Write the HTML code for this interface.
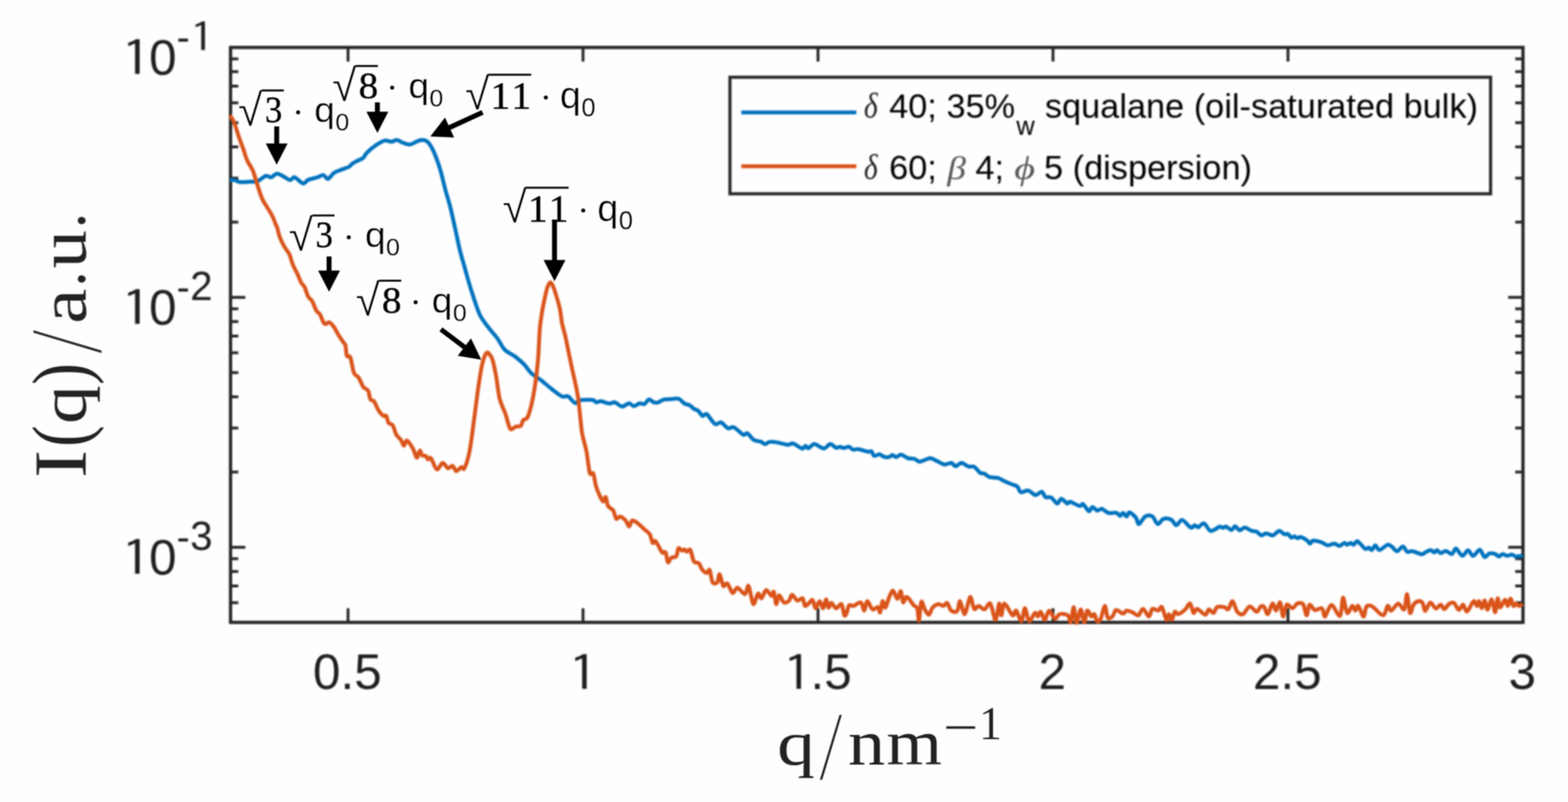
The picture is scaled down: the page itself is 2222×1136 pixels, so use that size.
<!DOCTYPE html>
<html lang="en"><head><meta charset="utf-8"><title>SAXS I(q) curves</title>
<style>
html,body{margin:0;padding:0;background:#fff;}
body{width:2222px;height:1136px;overflow:hidden;}
svg{display:block;}
.tick{font-family:"Liberation Sans",Arial,sans-serif;fill:#1e1e1e;}
.leg{font-family:"Liberation Sans",Arial,sans-serif;fill:#000;}
.cm{fill:#222;}
.gr{font-family:"Liberation Serif","Times New Roman",serif;font-style:italic;}
.ann{fill:#000;}
</style></head><body>
<svg width="2222" height="1136" viewBox="0 0 2222 1136" role="img" aria-label="SAXS intensity I(q) versus q for two samples">
<defs><filter id="soft1" x="0" y="0" width="2222" height="1136" filterUnits="userSpaceOnUse" color-interpolation-filters="sRGB"><feGaussianBlur stdDeviation="1.3"/></filter><filter id="soft2" x="0" y="0" width="2222" height="1136" filterUnits="userSpaceOnUse" color-interpolation-filters="sRGB"><feConvolveMatrix order="3" kernelMatrix="0.0625 0.1250 0.0625 0.1250 0.2500 0.1250 0.0625 0.1250 0.0625" divisor="1" edgeMode="duplicate" preserveAlpha="false"/></filter></defs>
<rect width="2222" height="1136" fill="#fefefe"/>
<g id="plot" filter="url(#soft1)">
<g id="axes" stroke="#262626" fill="none">
<rect x="326.7" y="67.2" width="1831.5" height="814.4" stroke-width="4.6"/>
<line x1="493.2" y1="881.6" x2="493.2" y2="861.6" stroke-width="4"/>
<line x1="493.2" y1="67.2" x2="493.2" y2="87.2" stroke-width="4"/>
<line x1="826.2" y1="881.6" x2="826.2" y2="861.6" stroke-width="4"/>
<line x1="826.2" y1="67.2" x2="826.2" y2="87.2" stroke-width="4"/>
<line x1="1159.2" y1="881.6" x2="1159.2" y2="861.6" stroke-width="4"/>
<line x1="1159.2" y1="67.2" x2="1159.2" y2="87.2" stroke-width="4"/>
<line x1="1492.2" y1="881.6" x2="1492.2" y2="861.6" stroke-width="4"/>
<line x1="1492.2" y1="67.2" x2="1492.2" y2="87.2" stroke-width="4"/>
<line x1="1825.2" y1="881.6" x2="1825.2" y2="861.6" stroke-width="4"/>
<line x1="1825.2" y1="67.2" x2="1825.2" y2="87.2" stroke-width="4"/>
<line x1="326.7" y1="421.2" x2="347.7" y2="421.2" stroke-width="4"/>
<line x1="2158.2" y1="421.2" x2="2137.2" y2="421.2" stroke-width="4"/>
<line x1="326.7" y1="314.6" x2="337.7" y2="314.6" stroke-width="4"/>
<line x1="2158.2" y1="314.6" x2="2147.2" y2="314.6" stroke-width="4"/>
<line x1="326.7" y1="252.3" x2="337.7" y2="252.3" stroke-width="4"/>
<line x1="2158.2" y1="252.3" x2="2147.2" y2="252.3" stroke-width="4"/>
<line x1="326.7" y1="208.1" x2="337.7" y2="208.1" stroke-width="4"/>
<line x1="2158.2" y1="208.1" x2="2147.2" y2="208.1" stroke-width="4"/>
<line x1="326.7" y1="173.8" x2="337.7" y2="173.8" stroke-width="4"/>
<line x1="2158.2" y1="173.8" x2="2147.2" y2="173.8" stroke-width="4"/>
<line x1="326.7" y1="145.7" x2="337.7" y2="145.7" stroke-width="4"/>
<line x1="2158.2" y1="145.7" x2="2147.2" y2="145.7" stroke-width="4"/>
<line x1="326.7" y1="122.0" x2="337.7" y2="122.0" stroke-width="4"/>
<line x1="2158.2" y1="122.0" x2="2147.2" y2="122.0" stroke-width="4"/>
<line x1="326.7" y1="101.5" x2="337.7" y2="101.5" stroke-width="4"/>
<line x1="2158.2" y1="101.5" x2="2147.2" y2="101.5" stroke-width="4"/>
<line x1="326.7" y1="83.4" x2="337.7" y2="83.4" stroke-width="4"/>
<line x1="2158.2" y1="83.4" x2="2147.2" y2="83.4" stroke-width="4"/>
<line x1="326.7" y1="775.2" x2="347.7" y2="775.2" stroke-width="4"/>
<line x1="2158.2" y1="775.2" x2="2137.2" y2="775.2" stroke-width="4"/>
<line x1="326.7" y1="668.6" x2="337.7" y2="668.6" stroke-width="4"/>
<line x1="2158.2" y1="668.6" x2="2147.2" y2="668.6" stroke-width="4"/>
<line x1="326.7" y1="606.3" x2="337.7" y2="606.3" stroke-width="4"/>
<line x1="2158.2" y1="606.3" x2="2147.2" y2="606.3" stroke-width="4"/>
<line x1="326.7" y1="562.1" x2="337.7" y2="562.1" stroke-width="4"/>
<line x1="2158.2" y1="562.1" x2="2147.2" y2="562.1" stroke-width="4"/>
<line x1="326.7" y1="527.8" x2="337.7" y2="527.8" stroke-width="4"/>
<line x1="2158.2" y1="527.8" x2="2147.2" y2="527.8" stroke-width="4"/>
<line x1="326.7" y1="499.7" x2="337.7" y2="499.7" stroke-width="4"/>
<line x1="2158.2" y1="499.7" x2="2147.2" y2="499.7" stroke-width="4"/>
<line x1="326.7" y1="476.0" x2="337.7" y2="476.0" stroke-width="4"/>
<line x1="2158.2" y1="476.0" x2="2147.2" y2="476.0" stroke-width="4"/>
<line x1="326.7" y1="455.5" x2="337.7" y2="455.5" stroke-width="4"/>
<line x1="2158.2" y1="455.5" x2="2147.2" y2="455.5" stroke-width="4"/>
<line x1="326.7" y1="437.4" x2="337.7" y2="437.4" stroke-width="4"/>
<line x1="2158.2" y1="437.4" x2="2147.2" y2="437.4" stroke-width="4"/>
<line x1="326.7" y1="853.7" x2="337.7" y2="853.7" stroke-width="4"/>
<line x1="2158.2" y1="853.7" x2="2147.2" y2="853.7" stroke-width="4"/>
<line x1="326.7" y1="830.0" x2="337.7" y2="830.0" stroke-width="4"/>
<line x1="2158.2" y1="830.0" x2="2147.2" y2="830.0" stroke-width="4"/>
<line x1="326.7" y1="809.5" x2="337.7" y2="809.5" stroke-width="4"/>
<line x1="2158.2" y1="809.5" x2="2147.2" y2="809.5" stroke-width="4"/>
<line x1="326.7" y1="791.4" x2="337.7" y2="791.4" stroke-width="4"/>
<line x1="2158.2" y1="791.4" x2="2147.2" y2="791.4" stroke-width="4"/>
</g>
<g id="curves">
<path d="M325.8,255.7C326.7,255.6 329.4,254.5 331.7,254.9C334.0,255.3 336.5,257.5 340.0,257.9C343.5,258.3 349.3,257.6 353.3,257.4C357.3,257.2 361.3,257.9 365.0,256.6C368.7,255.3 373.5,250.0 376.6,249.1C379.7,248.2 381.7,251.7 384.1,251.2C386.5,250.7 389.3,246.7 391.6,246.2C393.9,245.7 395.2,246.5 398.3,247.9C401.4,249.3 407.7,254.4 410.8,254.9C413.9,255.4 414.4,250.4 417.4,251.2C420.4,252.0 426.4,259.3 429.5,259.9C432.6,260.5 433.3,256.3 436.6,254.9C439.9,253.5 446.4,252.3 449.9,251.2C453.4,250.1 455.8,247.5 458.2,247.9C460.6,248.3 462.6,253.9 465.0,253.4C467.4,252.9 470.3,246.9 473.2,244.9C476.1,242.9 479.6,242.0 483.0,240.6C486.4,239.2 491.8,237.7 494.3,236.4C496.8,235.1 496.8,233.6 498.8,232.2C500.8,230.8 504.5,228.9 507.0,227.5C509.5,226.1 512.6,225.4 514.6,223.6C516.6,221.8 517.1,219.2 519.8,216.5C522.5,213.8 527.5,209.4 531.5,206.6C535.5,203.8 541.1,200.0 544.8,199.1C548.5,198.2 552.0,200.9 554.8,200.8C557.6,200.7 559.6,198.0 562.3,198.3C565.0,198.6 568.4,201.4 571.5,202.4C574.6,203.4 578.5,204.9 581.4,204.6C584.3,204.3 587.3,201.8 589.8,200.8C592.3,199.8 594.9,198.4 597.3,198.3C599.7,198.2 602.5,198.4 604.8,200.0C607.1,201.6 609.3,204.6 611.4,208.3C613.5,212.0 616.0,217.7 618.1,223.3C620.2,228.9 622.6,235.7 624.7,243.2C626.8,250.7 629.3,261.9 631.4,269.9C633.5,277.9 635.8,284.2 638.1,293.2C640.4,302.2 643.3,316.3 645.5,326.0C647.7,335.7 649.6,345.6 651.6,354.0C653.6,362.4 656.2,370.6 658.3,378.3C660.4,386.0 662.8,394.5 665.0,402.0C667.2,409.5 669.8,417.8 672.3,425.0C674.8,432.2 677.2,440.6 680.5,447.0C683.8,453.4 689.1,459.8 693.0,464.9C696.9,470.0 701.2,474.2 704.7,479.0C708.2,483.8 710.9,490.8 714.9,495.0C718.9,499.2 725.4,501.5 729.9,505.0C734.4,508.5 739.5,512.7 743.2,516.6C746.9,520.5 749.5,525.6 753.2,529.1C756.9,532.6 762.0,534.8 766.5,538.3C771.0,541.8 776.7,547.1 781.5,550.8C786.3,554.5 792.8,559.9 796.5,561.6C800.2,563.3 801.9,559.8 804.8,561.3C807.7,562.8 812.1,569.9 814.8,570.8C817.5,571.7 817.5,567.6 821.5,566.9C825.5,566.2 836.1,566.1 839.8,566.6C843.5,567.1 842.9,569.6 844.8,569.9C846.7,570.2 848.6,568.0 851.5,568.3C854.4,568.6 859.9,571.3 863.1,571.6C866.3,571.9 868.5,569.2 871.4,569.9C874.3,570.6 878.2,575.6 881.4,575.8C884.6,576.0 888.7,571.4 891.4,571.3C894.1,571.2 895.7,575.3 898.1,575.3C900.5,575.3 904.0,571.8 906.4,571.3C908.8,570.8 911.0,573.3 913.1,572.4C915.2,571.5 917.6,566.2 919.7,565.8C921.8,565.4 924.3,569.2 926.4,569.9C928.5,570.6 931.0,570.5 933.1,569.9C935.2,569.3 937.0,567.0 939.7,566.3C942.4,565.6 946.5,565.7 950.0,565.5C953.5,565.3 958.5,563.9 961.7,564.9C964.9,565.9 967.5,570.1 970.0,571.6C972.5,573.1 975.4,572.9 977.5,574.1C979.6,575.3 981.4,577.9 983.3,579.1C985.2,580.3 987.1,580.0 989.1,581.6C991.1,583.2 993.8,588.3 995.8,589.1C997.8,589.9 998.8,584.7 1001.6,586.6C1004.4,588.5 1010.1,598.8 1013.3,600.7C1016.5,602.6 1018.7,597.3 1021.6,598.2C1024.5,599.1 1028.7,605.5 1031.6,606.6C1034.5,607.7 1036.4,603.7 1039.9,605.2C1043.4,606.7 1050.1,614.3 1053.2,615.7C1056.3,617.1 1056.7,612.5 1059.1,613.7C1061.5,614.9 1065.1,621.3 1068.2,623.2C1071.3,625.1 1075.7,624.8 1078.2,625.7C1080.7,626.6 1082.2,629.0 1084.1,629.1C1086.0,629.2 1087.6,626.6 1089.9,626.1C1092.2,625.6 1093.9,625.5 1098.2,626.1C1102.5,626.7 1112.4,629.6 1116.5,629.9C1120.6,630.2 1120.8,627.3 1124.0,628.2C1127.2,629.1 1133.7,634.9 1136.5,635.4C1139.3,635.9 1140.0,631.7 1141.5,631.6C1143.0,631.5 1143.7,635.3 1145.7,634.9C1147.7,634.5 1150.5,629.1 1154.0,629.1C1157.5,629.1 1163.7,635.2 1167.3,635.2C1170.9,635.2 1173.7,629.3 1176.5,629.1C1179.3,628.9 1182.5,633.5 1184.8,634.1C1187.1,634.7 1188.9,632.8 1190.6,632.9C1192.3,633.0 1193.6,634.6 1195.6,634.6C1197.6,634.6 1201.0,632.5 1203.1,632.9C1205.2,633.3 1206.8,636.4 1208.9,636.9C1211.0,637.4 1213.1,635.7 1216.4,636.2C1219.7,636.7 1226.9,639.4 1229.8,639.9C1232.7,640.4 1233.3,638.2 1234.8,639.1C1236.3,640.0 1237.0,645.0 1238.9,645.7C1240.8,646.4 1244.3,643.3 1246.4,643.5C1248.5,643.7 1250.1,646.3 1252.2,646.9C1254.3,647.5 1257.7,647.8 1259.7,647.4C1261.7,647.0 1263.1,644.5 1264.7,644.5C1266.3,644.5 1267.7,647.5 1269.7,647.4C1271.7,647.3 1274.5,643.7 1277.2,644.0C1279.9,644.3 1283.5,648.1 1286.4,649.0C1289.3,649.9 1292.8,649.1 1295.5,649.9C1298.2,650.7 1300.7,653.7 1303.0,654.0C1305.3,654.3 1307.3,652.7 1309.7,651.9C1312.1,651.1 1315.3,648.9 1318.3,649.1C1321.3,649.3 1325.1,651.9 1328.3,653.3C1331.5,654.7 1335.1,657.5 1338.3,657.9C1341.5,658.3 1345.8,655.4 1348.3,655.8C1350.8,656.2 1351.8,660.4 1354.1,660.4C1356.4,660.4 1359.6,655.7 1362.5,655.8C1365.4,655.9 1369.5,659.9 1372.4,660.8C1375.3,661.7 1378.1,659.8 1380.8,661.3C1383.5,662.8 1386.8,668.4 1389.1,669.9C1391.4,671.4 1392.8,669.9 1394.9,670.8C1397.0,671.7 1399.3,674.8 1402.4,675.8C1405.5,676.8 1411.0,676.1 1414.1,676.9C1417.2,677.7 1418.5,679.3 1421.6,680.7C1424.7,682.1 1430.0,684.4 1433.2,685.7C1436.4,687.0 1439.5,687.3 1441.6,689.1C1443.7,690.9 1444.1,696.2 1446.6,697.1C1449.1,698.0 1454.1,694.2 1457.4,694.9C1460.7,695.6 1464.3,700.9 1467.4,701.2C1470.5,701.5 1474.2,696.1 1476.5,696.6C1478.8,697.1 1479.4,702.8 1481.5,704.1C1483.6,705.4 1487.1,703.4 1489.8,704.9C1492.5,706.4 1495.9,712.9 1498.2,713.2C1500.5,713.5 1501.7,706.6 1504.0,706.6C1506.3,706.6 1510.3,712.5 1512.3,713.2C1514.3,713.9 1513.7,710.2 1516.5,710.7C1519.3,711.2 1526.9,716.1 1529.8,716.6C1532.7,717.1 1532.7,712.9 1534.8,714.1C1536.9,715.3 1541.0,723.4 1543.1,724.1C1545.2,724.8 1546.2,718.3 1548.1,718.2C1550.0,718.1 1552.7,722.8 1554.8,723.2C1556.9,723.6 1558.9,720.2 1561.4,720.7C1563.9,721.2 1567.3,725.6 1570.6,726.5C1573.9,727.4 1579.6,725.8 1582.3,726.5C1585.0,727.2 1585.8,730.7 1587.3,730.7C1588.8,730.7 1589.9,726.4 1591.4,726.5C1592.9,726.6 1594.9,731.6 1596.4,731.5C1597.9,731.4 1598.5,725.4 1600.6,725.7C1602.7,726.0 1607.6,730.5 1609.7,733.2C1611.8,735.9 1611.8,742.7 1613.9,742.4C1616.0,742.1 1620.0,733.2 1623.1,731.5C1626.2,729.8 1630.3,729.8 1633.1,731.5C1635.9,733.2 1638.1,741.9 1640.6,742.4C1643.1,742.9 1645.8,735.9 1648.9,734.9C1652.0,733.9 1657.1,734.8 1660.0,736.2C1662.9,737.6 1664.3,743.8 1666.8,743.9C1669.3,744.0 1672.1,736.1 1675.4,736.6C1678.7,737.1 1684.6,746.1 1687.4,747.3C1690.2,748.5 1691.2,744.0 1692.9,743.9C1694.6,743.8 1696.0,747.3 1698.1,746.9C1700.2,746.5 1703.4,740.5 1706.2,741.3C1709.0,742.1 1712.0,751.2 1715.6,752.0C1719.2,752.8 1725.7,746.7 1728.4,746.0C1731.1,745.3 1731.3,747.7 1732.7,747.7C1734.1,747.7 1735.4,745.5 1737.4,746.0C1739.4,746.5 1743.1,750.8 1745.1,750.7C1747.1,750.6 1748.3,745.5 1750.2,745.6C1752.1,745.7 1754.5,750.9 1756.7,751.2C1758.9,751.5 1761.2,747.2 1763.9,747.3C1766.6,747.4 1771.1,751.1 1773.8,752.0C1776.5,752.9 1778.4,751.9 1780.6,752.9C1782.8,753.9 1785.3,758.0 1787.5,758.4C1789.7,758.8 1791.7,755.4 1794.3,755.4C1796.9,755.4 1800.8,758.9 1803.7,758.4C1806.6,757.9 1810.1,752.3 1812.7,752.0C1815.3,751.7 1818.0,756.0 1820.0,756.7C1822.0,757.4 1823.5,755.5 1825.1,756.3C1826.7,757.1 1828.3,760.9 1829.8,761.4C1831.3,761.9 1833.1,759.6 1834.5,759.7C1835.9,759.8 1837.4,762.2 1838.8,762.3C1840.2,762.4 1841.1,760.2 1843.1,760.6C1845.1,761.0 1849.4,763.5 1851.6,765.0C1853.8,766.5 1855.1,769.9 1856.6,770.0C1858.1,770.1 1858.0,766.1 1860.7,765.8C1863.4,765.5 1869.9,767.2 1873.2,768.3C1876.5,769.4 1878.7,772.2 1881.5,772.5C1884.3,772.8 1888.0,769.9 1890.7,770.0C1893.4,770.1 1895.9,773.4 1898.2,773.3C1900.5,773.2 1903.2,769.4 1904.9,769.1C1906.6,768.8 1907.5,771.6 1909.0,771.6C1910.5,771.6 1912.5,769.1 1914.0,769.1C1915.5,769.1 1916.7,772.0 1918.2,771.6C1919.7,771.2 1921.6,766.7 1923.2,766.6C1924.8,766.5 1926.3,769.1 1928.2,770.8C1930.1,772.5 1932.9,776.7 1934.8,777.5C1936.7,778.3 1938.3,775.5 1939.8,775.8C1941.3,776.1 1942.5,779.6 1944.0,779.1C1945.5,778.6 1947.3,772.5 1949.0,772.5C1950.7,772.5 1952.0,779.2 1954.8,779.1C1957.6,779.0 1963.6,772.3 1966.5,771.6C1969.4,770.9 1971.0,773.5 1973.1,775.0C1975.2,776.5 1977.4,780.9 1979.8,780.8C1982.2,780.7 1985.8,774.0 1988.1,774.1C1990.4,774.2 1991.9,780.5 1994.0,781.6C1996.1,782.7 1998.2,780.3 2001.5,780.8C2004.8,781.3 2011.8,784.8 2014.8,785.0C2017.8,785.2 2017.9,783.1 2020.0,782.2C2022.1,781.3 2025.7,779.1 2027.7,779.2C2029.7,779.3 2031.0,782.6 2032.4,782.6C2033.8,782.6 2034.9,779.1 2036.3,779.2C2037.7,779.3 2039.4,783.3 2041.4,783.5C2043.4,783.7 2046.5,780.3 2049.1,780.5C2051.7,780.7 2055.3,785.3 2057.6,784.7C2059.9,784.1 2060.9,776.6 2063.2,777.0C2065.5,777.4 2069.5,786.9 2072.2,787.3C2074.9,787.7 2077.8,779.6 2080.3,779.6C2082.8,779.6 2084.9,787.4 2087.6,787.3C2090.3,787.2 2094.4,778.5 2097.0,778.8C2099.6,779.1 2101.6,788.2 2103.8,789.0C2106.0,789.8 2108.4,784.6 2110.7,783.9C2113.0,783.2 2116.2,784.0 2118.4,784.7C2120.6,785.4 2122.6,788.2 2124.4,788.2C2126.2,788.2 2127.7,784.8 2129.5,784.7C2131.3,784.6 2133.5,787.2 2135.5,787.3C2137.5,787.4 2140.3,785.5 2142.3,785.6C2144.3,785.7 2145.8,788.0 2148.3,788.2C2150.8,788.4 2156.4,787.1 2158.0,786.9" fill="none" stroke="#0072bd" stroke-width="5.5" stroke-linejoin="round" stroke-linecap="butt"/>
<path d="M325.8,163.3C326.7,164.9 329.7,168.5 331.7,173.3C333.7,178.1 336.2,187.2 338.3,193.3C340.4,199.4 343.1,206.3 345.0,211.6C346.9,216.9 347.9,221.8 350.0,226.6C352.1,231.4 356.0,236.3 358.3,241.6C360.6,246.9 362.0,253.5 364.1,259.9C366.2,266.3 369.3,276.3 371.6,281.6C373.9,286.9 376.0,289.3 378.3,293.2C380.6,297.1 384.0,302.1 385.9,305.9C387.8,309.7 389.2,314.1 390.3,316.8C391.4,319.5 391.8,319.3 392.8,322.5C393.8,325.7 395.0,332.2 396.7,336.6C398.4,341.0 401.2,346.3 403.3,350.0C405.4,353.7 408.1,356.0 410.0,360.0C411.9,364.0 413.1,370.5 415.0,375.0C416.9,379.5 419.7,384.3 421.6,388.3C423.5,392.3 425.0,397.1 426.6,400.0C428.2,402.9 430.0,403.4 431.6,406.6C433.2,409.8 434.9,416.8 436.6,420.0C438.3,423.2 440.5,423.4 442.4,426.6C444.3,429.8 446.6,437.1 448.3,440.0C450.0,442.9 451.7,442.4 453.3,445.0C454.9,447.6 457.0,454.3 458.3,456.5C459.6,458.7 460.3,459.0 461.6,459.0C462.9,459.0 464.7,455.8 466.6,456.5C468.5,457.2 471.1,460.3 473.2,463.2C475.3,466.1 477.8,471.4 479.9,474.9C482.0,478.4 485.1,482.6 486.6,484.9C488.1,487.2 488.7,485.9 489.5,489.0C490.3,492.1 490.5,501.3 491.6,504.1C492.7,506.9 495.0,502.7 496.6,506.6C498.2,510.5 499.7,523.8 501.6,528.3C503.5,532.8 506.2,531.8 508.3,535.0C510.4,538.2 512.8,545.4 514.9,548.3C517.0,551.2 520.0,550.5 521.6,553.3C523.2,556.1 523.6,563.4 524.9,565.8C526.2,568.2 528.0,565.8 529.9,568.3C531.8,570.8 534.5,578.3 536.6,581.6C538.7,584.9 541.5,587.9 543.2,589.1C544.9,590.3 546.2,587.5 547.4,589.1C548.6,590.7 549.2,597.0 550.7,599.1C552.2,601.2 554.9,599.7 556.6,602.4C558.3,605.1 559.7,612.4 561.6,615.7C563.5,619.0 566.5,620.7 568.2,623.2C569.9,625.7 571.1,631.4 572.4,631.5C573.7,631.6 574.5,623.5 576.5,624.0C578.5,624.5 582.6,631.0 584.9,634.9C587.2,638.8 589.1,647.7 590.7,648.2C592.3,648.7 593.7,638.7 594.9,638.2C596.1,637.7 596.9,643.7 598.2,644.9C599.5,646.1 601.9,644.8 603.2,645.7C604.5,646.6 605.3,650.2 606.5,650.7C607.7,651.2 608.7,646.7 610.7,649.0C612.7,651.3 616.3,663.7 619.0,664.8C621.7,665.9 624.8,656.0 627.3,655.7C629.8,655.4 632.5,662.5 634.8,663.2C637.1,663.9 639.6,659.2 641.5,659.9C643.4,660.6 644.5,667.0 646.5,667.3C648.5,667.6 652.1,662.2 654.0,661.5C655.9,660.8 656.2,666.9 658.1,663.2C660.0,659.5 663.5,648.9 665.6,638.2C667.7,627.5 669.5,611.3 671.5,596.6C673.5,581.9 676.2,559.4 678.1,546.6C680.0,533.8 681.7,523.4 683.1,516.6C684.5,509.8 685.8,506.8 687.0,504.0C688.2,501.2 689.4,499.4 690.6,499.2C691.8,499.0 693.3,501.3 694.5,503.0C695.7,504.7 696.7,505.2 698.1,510.0C699.5,514.8 701.5,524.5 703.1,533.3C704.7,542.1 706.0,556.4 708.1,564.9C710.2,573.4 714.0,579.8 716.4,586.6C718.8,593.4 720.7,604.6 723.1,607.4C725.5,610.2 729.0,604.8 731.4,604.1C733.8,603.4 736.5,604.7 738.1,603.2C739.7,601.7 739.9,596.8 741.4,594.9C742.9,593.0 745.3,595.1 747.2,591.6C749.1,588.1 751.4,580.5 753.1,573.3C754.8,566.1 756.6,556.7 758.1,546.6C759.6,536.5 761.3,522.8 762.4,510.0C763.5,497.2 764.0,477.5 764.9,466.5C765.8,455.5 766.9,449.5 768.2,441.5C769.5,433.5 771.9,422.4 773.2,416.6C774.5,410.8 775.4,407.7 776.5,405.0C777.6,402.3 778.9,400.1 779.9,399.9C780.9,399.7 781.9,401.9 783.0,404.0C784.1,406.1 784.9,408.0 786.5,413.2C788.1,418.4 791.6,429.3 793.2,436.5C794.8,443.7 795.2,451.6 796.5,458.2C797.8,464.8 799.4,468.4 801.5,478.0C803.6,487.6 807.1,505.7 809.8,518.3C812.5,530.9 816.2,546.2 818.1,556.6C820.0,567.0 820.4,574.1 821.5,583.2C822.6,592.3 823.3,604.3 824.8,613.2C826.3,622.1 829.2,629.9 831.0,639.0C832.8,648.1 834.2,664.9 835.8,670.0C837.4,675.1 839.3,667.6 840.8,670.8C842.3,674.0 842.9,683.7 845.0,690.0C847.1,696.3 852.0,707.6 854.1,709.9C856.2,712.2 857.1,703.0 858.3,704.1C859.5,705.2 859.9,713.5 861.6,716.6C863.3,719.7 867.2,720.4 869.1,723.3C871.0,726.2 871.7,733.6 873.3,734.9C874.9,736.2 877.0,731.2 879.1,731.6C881.2,732.0 884.6,735.1 886.6,737.4C888.6,739.7 890.1,745.7 891.6,745.7C893.1,745.7 893.9,738.2 895.8,737.4C897.7,736.6 900.4,738.7 903.2,740.7C906.0,742.7 910.4,747.4 913.2,749.9C916.0,752.4 918.8,753.5 920.7,756.6C922.6,759.7 923.6,767.5 924.9,769.1C926.2,770.7 927.0,764.5 929.1,766.6C931.2,768.7 935.9,779.9 938.2,782.4C940.5,784.9 941.9,780.1 943.2,782.4C944.5,784.7 945.2,795.3 946.5,796.5C947.8,797.7 949.6,791.2 951.5,789.9C953.4,788.6 956.6,790.3 958.2,788.2C959.8,786.1 960.2,777.8 961.5,776.5C962.8,775.2 965.2,779.6 966.5,779.9C967.8,780.2 968.8,777.9 969.9,778.2C971.0,778.5 971.9,781.4 973.2,781.5C974.5,781.6 976.6,776.9 978.2,779.0C979.8,781.1 981.2,791.8 983.2,794.9C985.2,798.0 988.8,796.3 990.7,798.2C992.6,800.1 993.1,804.4 994.8,806.5C996.5,808.6 999.8,811.4 1001.5,811.5C1003.2,811.6 1004.4,805.3 1005.7,807.4C1007.0,809.5 1008.1,822.0 1009.8,824.8C1011.5,827.6 1014.9,826.6 1016.5,824.8C1018.1,823.0 1018.4,812.7 1019.8,813.5C1021.2,814.3 1023.2,827.8 1025.0,829.9C1026.8,832.0 1028.7,825.0 1030.8,826.6C1032.9,828.2 1036.0,839.0 1038.3,839.9C1040.6,840.8 1042.2,832.1 1045.0,832.4C1047.8,832.7 1053.3,842.0 1055.8,841.6C1058.3,841.2 1058.9,827.6 1060.8,829.9C1062.7,832.2 1065.4,854.0 1067.5,855.7C1069.6,857.4 1072.2,842.0 1074.1,840.7C1076.0,839.4 1077.2,848.2 1079.1,847.4C1081.0,846.6 1083.5,836.3 1085.8,835.8C1088.1,835.3 1091.6,843.7 1093.3,844.1C1095.0,844.5 1095.5,836.3 1096.6,838.2C1097.7,840.1 1098.7,854.9 1099.9,855.7C1101.1,856.5 1102.4,843.6 1104.1,843.2C1105.8,842.8 1108.5,852.0 1110.8,853.2C1113.1,854.4 1116.4,852.4 1118.3,850.7C1120.2,849.0 1120.5,842.4 1122.4,842.4C1124.3,842.4 1127.5,849.9 1129.9,850.7C1132.3,851.5 1135.7,846.2 1137.4,847.4C1139.1,848.6 1139.2,857.1 1140.7,858.2C1142.2,859.3 1144.9,855.4 1146.6,854.1C1148.3,852.8 1150.1,848.7 1151.6,849.9C1153.1,851.1 1154.1,861.3 1155.7,861.6C1157.3,861.9 1159.8,851.6 1161.5,851.6C1163.2,851.6 1165.0,862.0 1166.5,861.6C1168.0,861.2 1169.5,849.2 1170.7,849.1C1171.9,849.0 1172.8,859.9 1174.0,860.7C1175.2,861.5 1176.5,854.0 1178.2,854.1C1179.9,854.2 1182.6,861.3 1184.9,861.6C1187.2,861.9 1190.5,854.1 1192.4,855.7C1194.3,857.3 1195.3,869.6 1196.5,871.6C1197.7,873.6 1198.8,870.5 1199.9,868.2C1201.0,865.9 1201.6,859.0 1203.2,857.4C1204.8,855.8 1207.1,858.9 1209.8,858.2C1212.5,857.5 1217.4,852.1 1219.8,853.2C1222.2,854.3 1223.3,865.2 1224.8,864.9C1226.3,864.6 1227.1,851.9 1229.0,851.6C1230.9,851.3 1234.1,861.9 1236.5,863.2C1238.9,864.5 1242.3,859.2 1244.0,859.9C1245.7,860.6 1246.2,868.7 1247.3,867.4C1248.4,866.1 1249.4,852.7 1250.6,851.6C1251.8,850.5 1253.3,861.5 1254.8,860.7C1256.3,859.9 1258.1,850.5 1259.8,846.6C1261.5,842.7 1263.7,836.3 1265.6,836.6C1267.5,836.9 1269.8,848.1 1271.5,848.2C1273.2,848.3 1275.2,836.6 1276.5,837.4C1277.8,838.2 1278.6,851.9 1279.8,853.2C1281.0,854.5 1282.6,846.5 1283.9,845.7C1285.2,844.9 1286.4,846.3 1288.1,848.2C1289.8,850.1 1292.9,855.3 1294.8,857.4C1296.7,859.5 1298.6,858.1 1299.8,861.6C1301.0,865.1 1301.4,880.5 1302.3,879.0C1303.2,877.5 1304.3,854.9 1305.6,852.4C1306.9,849.9 1308.9,860.3 1310.6,863.2C1312.3,866.1 1314.7,871.1 1316.4,870.7C1318.1,870.3 1319.3,863.1 1321.4,860.7C1323.5,858.3 1327.2,856.1 1329.7,855.7C1332.2,855.3 1335.2,858.5 1337.2,858.2C1339.2,857.9 1340.5,853.0 1342.2,854.1C1343.9,855.2 1345.7,863.0 1348.0,864.9C1350.3,866.8 1354.4,867.8 1356.4,865.7C1358.4,863.6 1358.8,850.9 1360.5,851.6C1362.2,852.3 1364.9,870.8 1367.2,869.9C1369.5,869.0 1372.6,846.9 1374.7,845.7C1376.8,844.5 1378.6,860.5 1380.5,862.5C1382.4,864.5 1384.4,858.1 1386.7,858.2C1389.0,858.3 1392.3,863.7 1395.0,863.2C1397.7,862.7 1400.8,852.5 1403.3,854.9C1405.8,857.3 1408.8,878.2 1410.8,878.2C1412.8,878.2 1414.5,856.0 1415.8,854.9C1417.1,853.8 1417.9,871.6 1419.1,871.6C1420.3,871.6 1420.8,854.9 1423.3,854.9C1425.8,854.9 1432.3,870.0 1435.0,871.6C1437.7,873.2 1438.0,863.6 1440.0,864.9C1442.0,866.2 1445.4,880.4 1447.4,879.9C1449.4,879.4 1450.7,861.6 1452.4,861.6C1454.1,861.6 1456.0,878.8 1458.3,879.9C1460.6,881.0 1464.6,869.3 1466.6,868.2C1468.6,867.1 1469.5,873.5 1470.8,873.2C1472.1,872.9 1473.3,865.8 1474.9,866.6C1476.5,867.4 1478.8,878.5 1480.7,878.2C1482.6,877.9 1484.3,865.2 1486.6,864.9C1488.9,864.6 1492.5,875.7 1494.9,876.5C1497.3,877.3 1498.7,870.7 1501.6,869.9C1504.5,869.1 1510.7,869.7 1513.2,871.6C1515.7,873.5 1516.1,883.4 1517.4,881.5C1518.7,879.6 1520.2,859.8 1521.5,859.9C1522.8,860.0 1524.1,881.9 1525.7,882.4C1527.3,882.9 1529.8,863.3 1531.5,863.2C1533.2,863.1 1535.0,881.2 1536.5,881.5C1538.0,881.8 1539.1,866.2 1540.7,864.9C1542.3,863.6 1544.9,872.4 1546.5,873.2C1548.1,874.0 1549.4,868.8 1550.7,869.9C1552.0,871.0 1553.3,878.8 1554.8,879.9C1556.3,881.0 1558.1,880.0 1559.8,876.5C1561.5,873.0 1564.1,858.5 1565.7,858.2C1567.3,857.9 1568.1,872.5 1569.8,874.9C1571.5,877.3 1574.6,874.9 1576.5,873.2C1578.4,871.5 1579.1,864.8 1581.5,864.1C1583.9,863.4 1589.1,869.0 1591.5,869.1C1593.9,869.2 1594.4,865.2 1596.5,864.9C1598.6,864.6 1602.1,866.3 1604.8,867.4C1607.5,868.5 1610.7,872.4 1613.1,871.6C1615.5,870.8 1617.4,862.1 1619.8,862.4C1622.2,862.7 1626.0,873.2 1628.1,873.2C1630.2,873.2 1631.0,863.7 1633.1,862.4C1635.2,861.1 1639.3,865.3 1641.4,864.9C1643.5,864.5 1644.5,857.8 1646.4,859.9C1648.3,862.0 1651.5,876.6 1653.1,878.2C1654.7,879.8 1655.2,869.9 1656.4,869.9C1657.6,869.9 1659.3,878.7 1660.6,878.2C1661.9,877.7 1663.3,867.9 1664.8,866.6C1666.3,865.3 1667.4,870.4 1669.8,869.9C1672.2,869.4 1677.0,865.6 1679.7,863.2C1682.4,860.8 1684.5,854.1 1686.4,854.9C1688.3,855.7 1689.8,867.0 1691.4,868.2C1693.0,869.4 1693.7,862.0 1696.4,862.4C1699.1,862.8 1705.3,870.6 1708.0,870.7C1710.7,870.8 1711.1,863.6 1713.0,863.2C1714.9,862.8 1717.8,868.7 1719.7,868.2C1721.6,867.7 1722.3,861.2 1724.7,859.9C1727.1,858.6 1732.2,859.4 1734.7,859.9C1737.2,860.4 1738.6,864.3 1740.5,863.0C1742.4,861.7 1744.7,851.0 1746.7,851.6C1748.7,852.2 1750.9,863.7 1753.3,866.6C1755.7,869.5 1758.8,871.1 1761.6,869.9C1764.4,868.7 1767.7,859.6 1770.8,859.1C1773.9,858.6 1778.3,866.6 1780.8,866.6C1783.3,866.6 1784.9,860.2 1786.6,859.1C1788.3,858.0 1790.0,858.2 1791.6,859.9C1793.2,861.6 1794.7,870.7 1796.6,869.9C1798.5,869.1 1801.4,855.7 1803.3,854.9C1805.2,854.1 1806.6,865.2 1808.3,864.9C1810.0,864.6 1812.5,851.9 1814.1,853.2C1815.7,854.5 1816.8,872.7 1818.3,873.2C1819.8,873.7 1821.2,858.5 1823.3,856.6C1825.4,854.7 1829.2,861.9 1831.6,861.6C1834.0,861.3 1835.9,855.8 1838.3,854.9C1840.7,854.0 1844.5,853.0 1846.6,855.7C1848.7,858.4 1850.1,871.5 1851.6,871.6C1853.1,871.7 1853.8,857.8 1855.7,856.6C1857.6,855.4 1860.4,863.3 1863.2,864.1C1866.0,864.9 1870.9,860.1 1873.2,861.6C1875.5,863.1 1875.8,873.2 1877.4,873.2C1879.0,873.2 1881.5,864.1 1883.2,861.6C1884.9,859.1 1885.7,855.7 1888.2,857.4C1890.7,859.1 1896.6,874.1 1899.0,872.4C1901.4,870.7 1901.6,847.3 1903.2,846.6C1904.8,845.9 1906.9,866.3 1909.0,868.2C1911.1,870.1 1914.6,858.7 1916.5,858.2C1918.4,857.7 1919.4,864.9 1920.7,864.9C1922.0,864.9 1922.9,856.9 1924.8,858.2C1926.7,859.5 1930.4,873.1 1932.3,873.2C1934.2,873.3 1934.5,861.4 1936.5,859.1C1938.5,856.8 1941.1,857.1 1944.8,859.1C1948.5,861.1 1956.3,871.7 1959.8,871.6C1963.3,871.5 1964.6,859.3 1966.5,858.2C1968.4,857.1 1969.1,865.4 1971.5,864.9C1973.9,864.4 1978.6,855.2 1981.5,854.9C1984.4,854.6 1987.8,865.3 1989.8,863.2C1991.8,861.1 1992.7,840.8 1994.0,841.6C1995.3,842.4 1996.6,865.8 1998.1,868.2C1999.6,870.6 2001.2,859.3 2003.1,856.6C2005.0,853.9 2007.9,851.9 2009.9,851.5C2011.9,851.1 2014.3,851.8 2015.9,854.0C2017.5,856.2 2018.1,865.4 2019.8,865.3C2021.5,865.2 2024.4,854.0 2026.8,853.5C2029.2,853.0 2032.3,861.4 2034.7,861.9C2037.1,862.4 2039.7,856.2 2041.6,856.4C2043.5,856.6 2044.7,863.1 2046.6,862.9C2048.5,862.7 2051.3,856.8 2053.5,855.4C2055.7,854.0 2058.2,852.6 2060.4,854.0C2062.6,855.4 2065.2,863.5 2067.3,863.9C2069.4,864.3 2071.5,856.0 2073.3,856.4C2075.1,856.8 2076.6,866.6 2078.7,866.3C2080.8,866.0 2084.5,856.9 2086.2,854.5C2087.9,852.1 2088.0,850.9 2089.1,851.5C2090.2,852.1 2092.0,858.4 2093.1,858.4C2094.2,858.4 2094.9,851.0 2096.0,851.5C2097.1,852.0 2098.7,861.6 2100.0,861.4C2101.3,861.2 2102.7,850.2 2104.0,850.5C2105.3,850.8 2106.3,863.6 2107.9,863.4C2109.5,863.2 2112.2,848.4 2113.9,849.0C2115.6,849.6 2117.5,867.5 2118.8,867.3C2120.1,867.1 2121.2,848.6 2122.3,847.5C2123.4,846.4 2124.1,860.1 2125.8,860.4C2127.5,860.7 2131.0,849.8 2132.7,849.5C2134.4,849.2 2135.4,858.6 2136.7,858.4C2138.0,858.2 2139.3,848.0 2140.6,848.0C2141.9,848.0 2143.3,857.4 2144.6,858.4C2145.9,859.4 2147.2,854.5 2148.5,854.5C2149.8,854.5 2151.0,858.3 2152.5,858.4C2154.0,858.5 2157.1,855.9 2158.0,855.4" fill="none" stroke="#d95319" stroke-width="5.5" stroke-linejoin="round" stroke-linecap="butt"/>
</g>
<g id="ticklabels" class="tick">
<text x="443.6" y="976.3" font-size="70">0.5</text>
<text transform="matrix(0.9333 0 0 0.7095 803.55 979.85)" font-family="IPAGothic, 'Liberation Sans', sans-serif" font-size="100" stroke="#fefefe" stroke-width="1.2">1</text>
<text transform="matrix(0.9333 0 0 0.7095 1107.36 979.85)" font-family="IPAGothic, 'Liberation Sans', sans-serif" font-size="100" stroke="#fefefe" stroke-width="1.2">1</text><text x="1148.6" y="976.3" font-size="70">.5</text>
<text x="1471.8" y="976.3" font-size="70">2</text>
<text x="1775.6" y="976.3" font-size="70">2.5</text>
<text x="2137.8" y="976.3" font-size="70">3</text>
<text transform="matrix(0.9333 0 0 0.7095 170.01 109.05)" font-family="IPAGothic, 'Liberation Sans', sans-serif" font-size="100" stroke="#fefefe" stroke-width="1.2">1</text><text x="211.2" y="105.5" font-size="70">0</text><text x="250.3" y="71.6" font-size="56">-</text><text transform="matrix(0.7600 0 0 0.5777 267.69 73.89)" font-family="IPAGothic, 'Liberation Sans', sans-serif" font-size="100" stroke="#fefefe" stroke-width="1.2">1</text>
<text transform="matrix(0.9333 0 0 0.7095 170.01 463.05)" font-family="IPAGothic, 'Liberation Sans', sans-serif" font-size="100" stroke="#fefefe" stroke-width="1.2">1</text><text x="211.2" y="459.5" font-size="70">0</text><text x="250.3" y="425.6" font-size="56">-</text><text x="269.5" y="425.0" font-size="57">2</text>
<text transform="matrix(0.9333 0 0 0.7095 170.01 817.05)" font-family="IPAGothic, 'Liberation Sans', sans-serif" font-size="100" stroke="#fefefe" stroke-width="1.2">1</text><text x="211.2" y="813.5" font-size="70">0</text><text x="250.3" y="779.6" font-size="56">-</text><text x="269.5" y="779.0" font-size="57">3</text>
</g>
<g id="legend">
<rect x="1034.4" y="109.4" width="1077.9" height="165.1" fill="#fefefe" stroke="#262626" stroke-width="4.4"/>
<line x1="1050.5" y1="159.3" x2="1213.5" y2="159.3" stroke="#0072bd" stroke-width="5.5"/>
<line x1="1050.5" y1="235.4" x2="1213.5" y2="235.4" stroke="#d95319" stroke-width="5.5"/>
<g class="leg" font-size="48.65"><g id="leg1"><text transform="matrix(0.4201 0 0 0.5060 1224.34 167.09)" font-family="Liberation Serif" font-size="100" font-style="italic" fill="#222">δ</text><text x="1260.0" y="166.9"> 40; 35%</text><text x="1440.3" y="190.9" font-size="36">w</text><text x="1480.7" y="166.9"> squalane (oil-saturated bulk)</text></g>
<g id="leg2"><text transform="matrix(0.4201 0 0 0.5060 1224.34 253.99)" font-family="Liberation Serif" font-size="100" font-style="italic" fill="#222">δ</text><text x="1260.0" y="253.8"> 60;</text><text transform="matrix(0.5268 0 0 0.4643 1342.39 253.73)" font-family="Liberation Serif" font-size="100" font-style="italic" fill="#555"> β</text><text x="1382.2" y="253.8"> 4;</text><text transform="matrix(0.5714 0 0 0.4694 1437.31 253.62)" font-family="Liberation Serif" font-size="100" font-style="italic" fill="#555"> ϕ</text><text x="1479.5" y="253.8"> 5 (dispersion)</text></g>
</g>
</g>
</g>
<g id="overlay" filter="url(#soft2)">
<g id="xlabel" class="cm"><text transform="matrix(1.0704 0 0 0.8892 1101.35 1082.70)" font-family="Liberation Serif" font-size="100">q</text><text transform="matrix(1.2505 0 0 1.4299 1159.90 1105.17)" font-family="Liberation Serif" font-size="100" stroke="#fefefe" stroke-width="2.0">/</text><text transform="matrix(1.0508 0 0 0.9085 1201.64 1082.50)" font-family="Liberation Serif" font-size="100">n</text><text transform="matrix(1.0101 0 0 0.9085 1256.18 1082.50)" font-family="Liberation Serif" font-size="100">m</text><text transform="matrix(0.8817 0 0 0.6800 1336.39 1053.01)" font-family="Liberation Serif" font-size="100">−</text><text transform="matrix(0.6440 0 0 0.6788 1387.47 1047.40)" font-family="Liberation Serif" font-size="100">1</text></g>
<g id="ylabel" class="cm" transform="translate(121.4,672.9) rotate(-90)"><text transform="matrix(1.2000 0 0 1.0489 -4.20 0.00)" font-family="Liberation Serif" font-size="100">I</text><text transform="matrix(0.9137 0 0 1.1138 39.99 1.53)" font-family="Liberation Serif" font-size="100">(</text><text transform="matrix(1.0994 0 0 0.9252 72.35 -0.16)" font-family="Liberation Serif" font-size="100">q</text><text transform="matrix(0.9282 0 0 1.1138 127.68 1.53)" font-family="Liberation Serif" font-size="100">)</text><text transform="matrix(1.2937 0 0 1.4851 171.00 23.01)" font-family="Liberation Serif" font-size="100" stroke="#fefefe" stroke-width="2.0">/</text><text transform="matrix(1.1241 0 0 0.9583 214.27 0.24)" font-family="Liberation Serif" font-size="100">a</text><text transform="matrix(0.8833 0 0 0.9532 266.66 -1.13)" font-family="Liberation Serif" font-size="100">.</text><text transform="matrix(1.0851 0 0 0.9787 292.74 0.22)" font-family="Liberation Serif" font-size="100">u</text><text transform="matrix(0.8833 0 0 0.9532 349.46 -1.13)" font-family="Liberation Serif" font-size="100">.</text></g>
<g id="annotations">
<g class="ann" id="ann1"><text transform="matrix(0.6316 0 0 0.6400 337.32 177.62)" font-family="Liberation Sans" font-size="100" stroke="#fefefe" stroke-width="1.2">√</text><line x1="370.7" y1="128.2" x2="402.2" y2="128.2" stroke="#000" stroke-width="2.7"/><text transform="matrix(0.4897 0 0 0.5368 375.47 173.26)" font-family="Liberation Serif" font-size="100" stroke="#000" stroke-width="0.8" stroke-linejoin="round">3</text><text transform="matrix(0.4936 0 0 0.4936 414.29 174.75)" font-family="Liberation Serif" font-size="100"> ·</text><text transform="matrix(0.5267 0 0 0.5087 445.36 173.24)" font-family="Liberation Sans" font-size="100" stroke="#fefefe" stroke-width="1.0"> q</text><text transform="matrix(0.3539 0 0 0.3548 475.28 185.25)" font-family="Liberation Sans" font-size="100" stroke="#fefefe" stroke-width="1.0">0</text></g>
<g class="ann" id="ann2"><text transform="matrix(0.6316 0 0 0.6400 470.62 142.92)" font-family="Liberation Sans" font-size="100" stroke="#fefefe" stroke-width="1.2">√</text><line x1="504.0" y1="93.5" x2="535.5" y2="93.5" stroke="#000" stroke-width="2.7"/><text transform="matrix(0.5529 0 0 0.5348 508.23 138.57)" font-family="Liberation Serif" font-size="100" stroke="#000" stroke-width="0.8" stroke-linejoin="round">8</text><text transform="matrix(0.4936 0 0 0.4936 547.59 140.05)" font-family="Liberation Serif" font-size="100"> ·</text><text transform="matrix(0.5267 0 0 0.5087 578.66 138.54)" font-family="Liberation Sans" font-size="100" stroke="#fefefe" stroke-width="1.0"> q</text><text transform="matrix(0.3539 0 0 0.3548 608.58 150.55)" font-family="Liberation Sans" font-size="100" stroke="#fefefe" stroke-width="1.0">0</text></g>
<g class="ann" id="ann3"><text transform="matrix(0.6316 0 0 0.6362 659.02 154.92)" font-family="Liberation Sans" font-size="100" stroke="#fefefe" stroke-width="1.2">√</text><line x1="692.0" y1="105.8" x2="752.8" y2="105.8" stroke="#000" stroke-width="2.7"/><text transform="matrix(0.5617 0 0 0.5485 694.89 153.80)" font-family="Liberation Serif" font-size="100" stroke="#000" stroke-width="1.1" stroke-linejoin="round">1</text><text transform="matrix(0.5560 0 0 0.5485 724.63 153.80)" font-family="Liberation Serif" font-size="100" stroke="#000" stroke-width="1.1" stroke-linejoin="round">1</text><text transform="matrix(0.4936 0 0 0.4936 765.29 154.05)" font-family="Liberation Serif" font-size="100"> ·</text><text transform="matrix(0.5333 0 0 0.5154 793.53 153.10)" font-family="Liberation Sans" font-size="100" stroke="#fefefe" stroke-width="1.0"> q</text><text transform="matrix(0.3581 0 0 0.3675 824.07 165.43)" font-family="Liberation Sans" font-size="100" stroke="#fefefe" stroke-width="1.0">0</text></g>
<g class="ann" id="ann4"><text transform="matrix(0.6316 0 0 0.6400 409.12 354.62)" font-family="Liberation Sans" font-size="100" stroke="#fefefe" stroke-width="1.2">√</text><line x1="442.5" y1="305.2" x2="474.0" y2="305.2" stroke="#000" stroke-width="2.7"/><text transform="matrix(0.4897 0 0 0.5368 447.27 350.26)" font-family="Liberation Serif" font-size="100" stroke="#000" stroke-width="0.8" stroke-linejoin="round">3</text><text transform="matrix(0.4936 0 0 0.4936 486.09 351.75)" font-family="Liberation Serif" font-size="100"> ·</text><text transform="matrix(0.5267 0 0 0.5087 517.16 350.24)" font-family="Liberation Sans" font-size="100" stroke="#fefefe" stroke-width="1.0"> q</text><text transform="matrix(0.3539 0 0 0.3548 547.08 362.25)" font-family="Liberation Sans" font-size="100" stroke="#fefefe" stroke-width="1.0">0</text></g>
<g class="ann" id="ann5"><text transform="matrix(0.6316 0 0 0.6400 503.72 447.02)" font-family="Liberation Sans" font-size="100" stroke="#fefefe" stroke-width="1.2">√</text><line x1="537.1" y1="397.6" x2="568.6" y2="397.6" stroke="#000" stroke-width="2.7"/><text transform="matrix(0.5529 0 0 0.5348 541.33 442.67)" font-family="Liberation Serif" font-size="100" stroke="#000" stroke-width="0.8" stroke-linejoin="round">8</text><text transform="matrix(0.4936 0 0 0.4936 580.69 444.15)" font-family="Liberation Serif" font-size="100"> ·</text><text transform="matrix(0.5267 0 0 0.5087 611.76 442.64)" font-family="Liberation Sans" font-size="100" stroke="#fefefe" stroke-width="1.0"> q</text><text transform="matrix(0.3539 0 0 0.3548 641.68 454.65)" font-family="Liberation Sans" font-size="100" stroke="#fefefe" stroke-width="1.0">0</text></g>
<g class="ann" id="ann6"><text transform="matrix(0.6316 0 0 0.6363 712.02 314.92)" font-family="Liberation Sans" font-size="100" stroke="#fefefe" stroke-width="1.2">√</text><line x1="745.0" y1="265.8" x2="805.8" y2="265.8" stroke="#000" stroke-width="2.7"/><text transform="matrix(0.5617 0 0 0.5485 747.89 313.80)" font-family="Liberation Serif" font-size="100" stroke="#000" stroke-width="1.1" stroke-linejoin="round">1</text><text transform="matrix(0.5560 0 0 0.5485 777.63 313.80)" font-family="Liberation Serif" font-size="100" stroke="#000" stroke-width="1.1" stroke-linejoin="round">1</text><text transform="matrix(0.4936 0 0 0.4936 818.29 314.05)" font-family="Liberation Serif" font-size="100"> ·</text><text transform="matrix(0.5333 0 0 0.5154 846.53 313.10)" font-family="Liberation Sans" font-size="100" stroke="#fefefe" stroke-width="1.0"> q</text><text transform="matrix(0.3581 0 0 0.3675 877.07 325.43)" font-family="Liberation Sans" font-size="100" stroke="#fefefe" stroke-width="1.0">0</text></g>
</g>
<g id="arrows">
<line x1="392.1" y1="179.1" x2="392.1" y2="205.3" stroke="#000" stroke-width="7"/><polygon points="392.1,233.3 376.6,203.3 407.6,203.3" fill="#000"/>
<line x1="534.8" y1="145.0" x2="534.8" y2="160.3" stroke="#000" stroke-width="7"/><polygon points="534.8,188.3 519.3,158.3 550.3,158.3" fill="#000"/>
<line x1="683.9" y1="159.1" x2="635.2" y2="181.5" stroke="#000" stroke-width="7"/><polygon points="609.8,193.2 630.6,166.6 643.5,194.7" fill="#000"/>
<line x1="466.3" y1="363.3" x2="466.3" y2="385.2" stroke="#000" stroke-width="7"/><polygon points="466.3,413.2 450.8,383.2 481.8,383.2" fill="#000"/>
<line x1="624.8" y1="466.5" x2="659.6" y2="492.8" stroke="#000" stroke-width="7"/><polygon points="682.0,509.6 648.7,503.9 667.4,479.2" fill="#000"/>
<line x1="785.8" y1="311.0" x2="785.8" y2="370.3" stroke="#000" stroke-width="7"/><polygon points="785.8,398.3 770.3,368.3 801.3,368.3" fill="#000"/>
</g>
</g></svg></body></html>
